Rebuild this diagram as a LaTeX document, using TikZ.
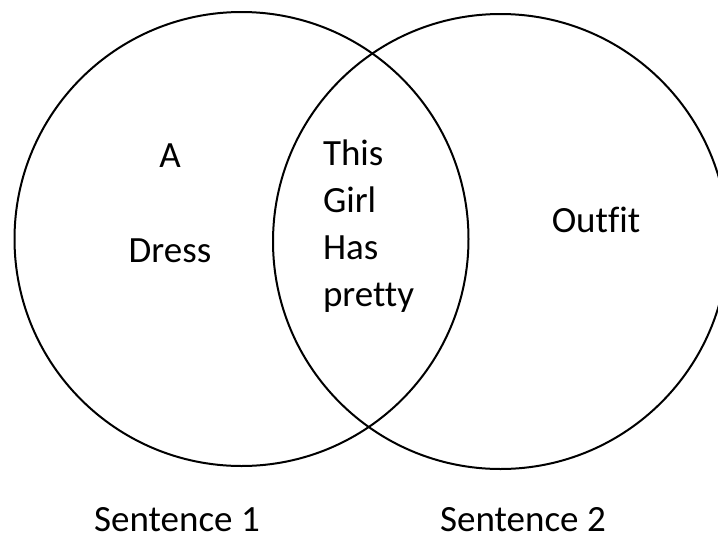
\documentclass[tikz,border=0pt]{standalone}
\usepackage{fontspec}
\setmainfont{Carlito}[Ligatures={NoCommon}]
\usetikzlibrary{positioning}

\begin{document}
\begin{tikzpicture}[x=1pt, y=-1pt,
    every node/.style={inner sep=0pt, outer sep=0pt, font=\fontsize{37}{47}\selectfont},
    word/.style={anchor=base},
    ring/.style={line width=2pt}]
  \useasboundingbox (0,0) rectangle (718,539);
  \clip (0,0) rectangle (718,539);
  % the two sets
  \draw[ring] (241.5,239) circle[radius=227];
  \draw[ring] (500.5,241.5) circle[radius=227.5];
  % left only
  \node[word] (a) at (170,167) {A};
  \node[word] (dress) at (170,262) {Dress};
  % shared words
  \node[word, anchor=base west] (this) at (323,165) {This};
  \node[word, anchor=base west] (girl) at (323,212) {Girl};
  \node[word, anchor=base west] (has) at (323,259) {Has};
  \node[word, anchor=base west] (pretty) at (323,306) {pretty};
  % right only
  \node[word] (outfit) at (596,232) {Outfit};
  % captions
  \node[word] (sent1) at (177,531) {Sentence 1};
  \node[word] (sent2) at (523,531) {Sentence 2};
\end{tikzpicture}
\end{document}
